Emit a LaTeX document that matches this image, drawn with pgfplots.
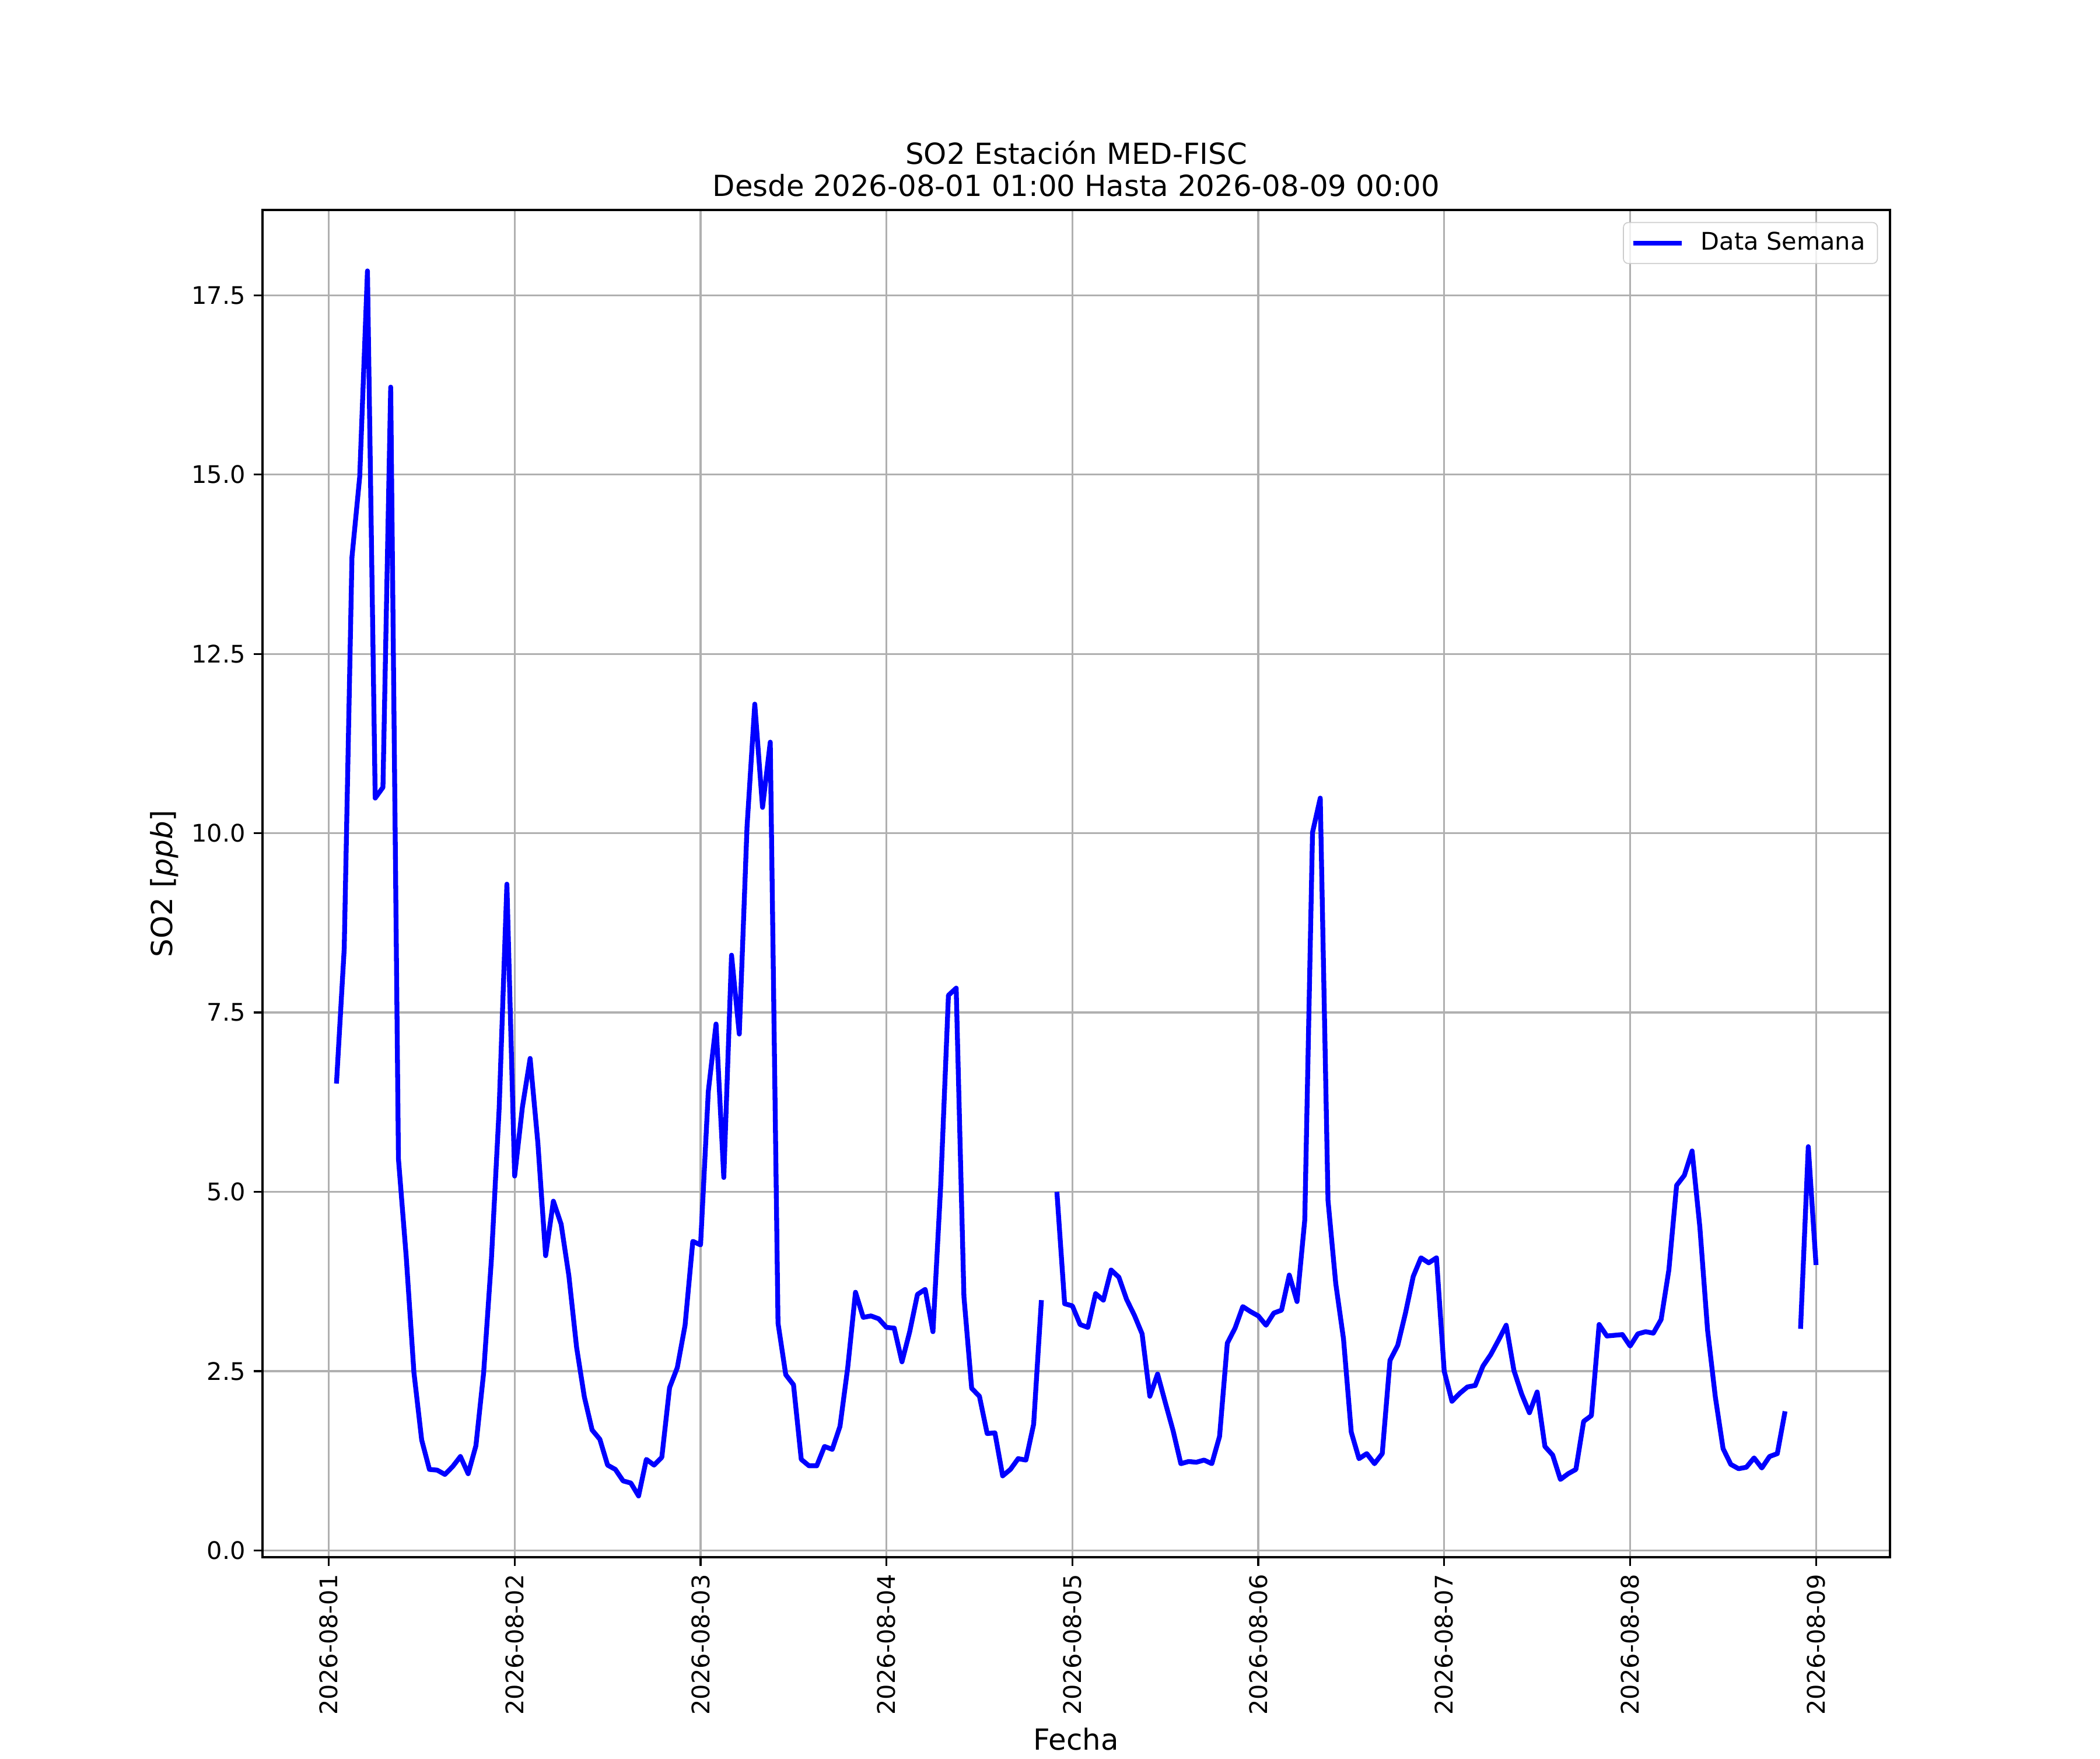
\documentclass[border=0pt]{standalone}
\usepackage{fontspec}
\setmainfont{DejaVu Sans}
\usepackage{pgfplots}
\usepackage{pgfplotstable}
\pgfplotsset{compat=1.18}
\definecolor{gridgray}{HTML}{B0B0B0}
\definecolor{legendgray}{HTML}{CCCCCC}
\pgfplotstableread{
t y
1 6.51
2 8.39
3 13.85
4 14.97
5 17.84
6 10.49
7 10.64
8 16.22
9 5.46
10 4.10
11 2.48
12 1.54
13 1.13
14 1.12
15 1.06
16 1.17
17 1.31
18 1.07
19 1.46
20 2.48
21 4.06
22 6.16
23 9.29
24 5.22
25 6.18
26 6.86
27 5.68
28 4.11
29 4.87
30 4.55
31 3.83
32 2.83
33 2.14
34 1.68
35 1.55
36 1.19
37 1.13
38 0.97
39 0.94
40 0.76
41 1.27
42 1.19
43 1.30
44 2.27
45 2.55
46 3.14
47 4.31
48 4.26
49 6.40
50 7.34
51 5.20
52 8.30
53 7.20
54 10.09
55 11.80
56 10.36
57 11.27
58 3.17
59 2.45
60 2.31
61 1.27
62 1.18
63 1.18
64 1.45
65 1.41
66 1.73
67 2.55
68 3.60
69 3.25
70 3.27
71 3.23
72 3.11
73 3.10
74 2.63
75 3.05
76 3.57
77 3.64
78 3.05
79 5.08
80 7.74
81 7.84
82 3.54
83 2.26
84 2.15
85 1.63
86 1.64
87 1.04
88 1.13
89 1.28
90 1.26
91 1.76
92 3.49
93 nan
94 5.00
95 3.44
96 3.41
97 3.15
98 3.11
99 3.58
100 3.49
101 3.91
102 3.81
103 3.50
104 3.28
105 3.02
106 2.15
107 2.46
108 2.06
109 1.67
110 1.21
111 1.24
112 1.23
113 1.26
114 1.21
115 1.59
116 2.89
117 3.10
118 3.40
119 3.33
120 3.27
121 3.14
122 3.31
123 3.35
124 3.84
125 3.47
126 4.61
127 10.01
128 10.49
129 4.88
130 3.72
131 2.95
132 1.65
133 1.28
134 1.35
135 1.21
136 1.35
137 2.65
138 2.86
139 3.31
140 3.82
141 4.08
142 4.01
143 4.08
144 2.50
145 2.08
146 2.19
147 2.28
148 2.30
149 2.57
150 2.73
151 2.93
152 3.14
153 2.51
154 2.18
155 1.92
156 2.21
157 1.45
158 1.33
159 0.99
160 1.07
161 1.13
162 1.80
163 1.88
164 3.15
165 2.99
166 3.00
167 3.01
168 2.85
169 3.02
170 3.05
171 3.03
172 3.22
173 3.91
174 5.09
175 5.23
176 5.57
177 4.51
178 3.07
179 2.14
180 1.42
181 1.20
182 1.14
183 1.16
184 1.29
185 1.15
186 1.31
187 1.35
188 1.94
189 nan
190 3.09
191 5.63
192 3.98
}\datatable
\begin{document}
\begin{tikzpicture}
\begin{axis}[
  name=main,
  scale only axis,
  width=9.3in, height=7.7in,
  xmin=-8.55, xmax=201.55,
  ymin=-0.094, ymax=18.69,
  xtick={0,24,48,72,96,120,144,168,192},
  xticklabels={2026-08-01,2026-08-02,2026-08-03,2026-08-04,2026-08-05,2026-08-06,2026-08-07,2026-08-08,2026-08-09},
  x tick label style={rotate=90, anchor=east, font=\fontsize{10}{12}\selectfont},
  ytick={0,2.5,5,7.5,10,12.5,15,17.5},
  y tick label style={font=\fontsize{10}{12}\selectfont},
  yticklabel style={/pgf/number format/.cd, fixed, fixed zerofill, precision=1},
  /pgf/number format/assume math mode=true,
  grid=major,
  grid style={color=gridgray, line width=0.8pt},
  axis line style={line width=0.8pt},
  tick style={line width=0.8pt, black},
  tick align=outside,
  major tick length=3.5pt,
  xtick pos=lower, ytick pos=left,
  title style={align=center, font=\fontsize{12}{13.3}\selectfont, yshift=-4pt},
  title={SO2 Estación MED-FISC\\Desde 2026-08-01 01:00 Hasta 2026-08-09 00:00},
  xlabel={Fecha},
  ylabel={SO2 [\textit{ppb}]},
  label style={font=\fontsize{12}{14.4}\selectfont},
  xlabel style={yshift=1.5pt},
  ylabel style={yshift=-1.5pt},
  unbounded coords=jump,
  legend cell align=left,
  legend style={at={(1,1)}, anchor=north east, xshift=-5pt, yshift=-5pt,
    draw=legendgray, rounded corners=2pt, fill=white, fill opacity=0.8,
    text opacity=1, font=\fontsize{10}{12}\selectfont,
    inner xsep=3pt, inner ysep=2pt},
  legend image code/.code={\draw[#1] (0pt,0pt) -- (20pt,0pt); \path (25pt,0pt);},
]
\addplot[color=blue, line width=2pt, no markers, line join=round] table[x=t, y=y] {\datatable};
\addlegendentry{Data Semana}
\end{axis}
\path (main.south west) ++(-1.5in,-1.1in) coordinate (bbsw);
\path (main.north east) ++(1.2in,1.2in) coordinate (bbne);
\path (bbsw) rectangle (bbne);
\end{tikzpicture}
\end{document}
